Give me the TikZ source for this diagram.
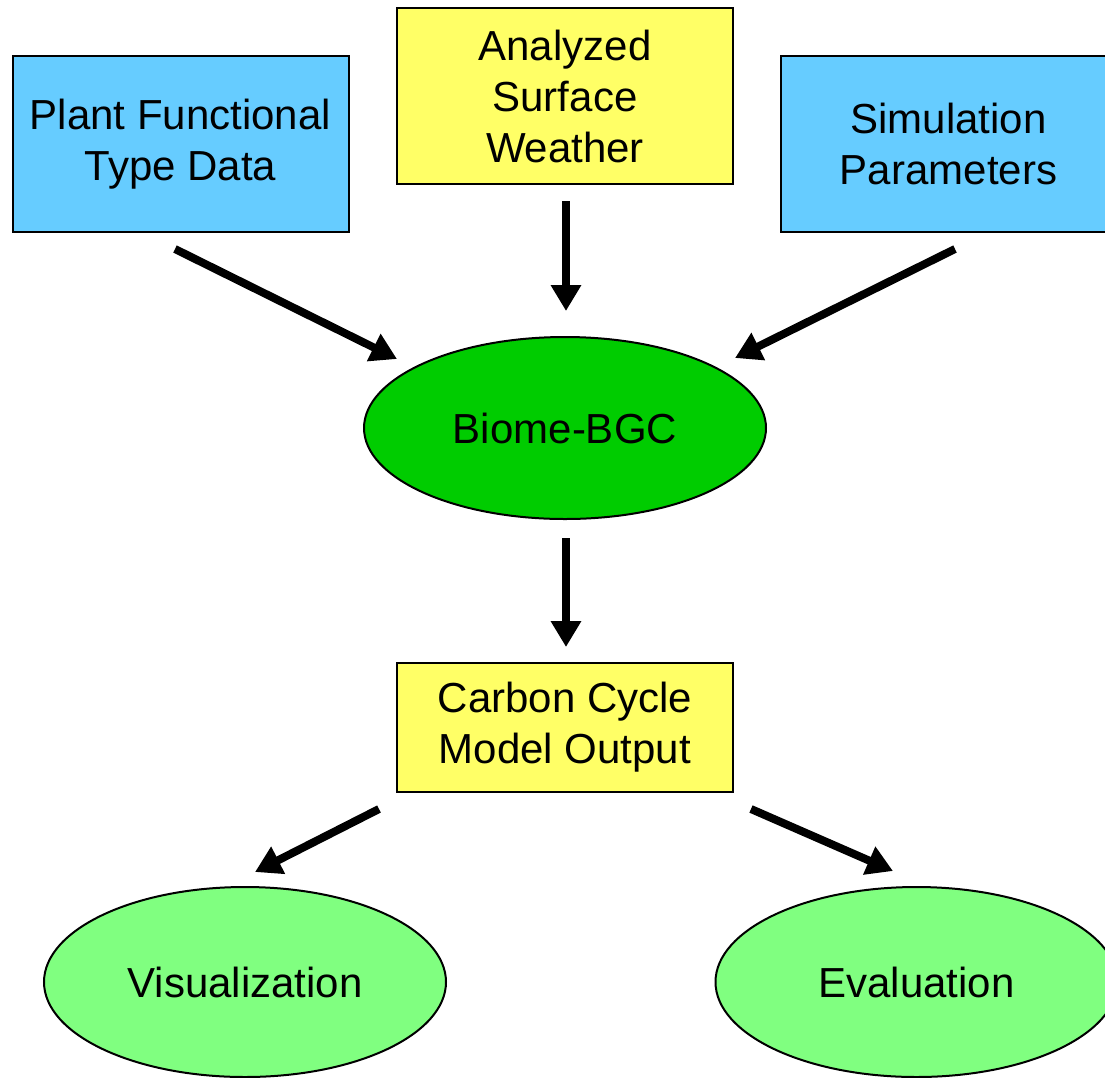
\documentclass[tikz,border=0pt]{standalone}
\usepackage{fontspec}
\setmainfont{Liberation Sans}
\usepackage{tikz}
\usetikzlibrary{positioning,shapes,arrows.meta}

\definecolor{skyblue}{RGB}{102,204,255}
\definecolor{paleyellow}{RGB}{255,255,102}
\definecolor{modelgreen}{RGB}{0,204,0}
\definecolor{lightgreen}{RGB}{128,255,128}

\begin{document}
\begin{tikzpicture}[x=0.5pt, y=-0.5pt,
  mybox/.style = {draw=black, line width=1pt, inner sep=0pt, align=center,
                  minimum width=168pt, font=\fontsize{21}{25.5}\selectfont},
  myoval/.style = {ellipse, draw=black, line width=1pt, inner sep=0pt,
                   minimum width=201pt, font=\fontsize{21}{25.5}\selectfont},
  myarrow/.style = {line width=4pt, -{Triangle[length=13pt,width=14.5pt]}}]
\useasboundingbox (0,0) rectangle (1105,1078);
% inputs
\node[mybox, fill=skyblue, minimum height=88pt] (plant) at (180.5,144) {Plant Functional\\Type Data};
\node[mybox, fill=paleyellow, minimum height=88pt] (weather) at (565,96) {Analyzed\\Surface\\Weather};
\node[mybox, fill=skyblue, minimum height=88pt] (params) at (948.5,144) {Simulation\\Parameters};
% model
\node[myoval, fill=modelgreen, minimum height=91pt] (biome) at (565,428) {Biome-BGC};
\node[mybox, fill=paleyellow, minimum height=64.5pt] (output) at (565,727.5) {Carbon Cycle\\Model Output};
% uses
\node[myoval, fill=lightgreen, minimum height=95pt] (vis) at (245,982) {Visualization};
\node[myoval, fill=lightgreen, minimum height=95pt] (eval) at (916.5,982) {Evaluation};
% arrows
\draw[myarrow] ([shift={(-5.5,16)}]plant.south) -- ([shift={(-168,-69)}]biome.center);
\draw[myarrow] ([shift={(1,16)}]weather.south) -- ([shift={(1,-25)}]biome.north);
\draw[myarrow] ([shift={(6.5,16)}]params.south) -- ([shift={(170,-70)}]biome.center);
\draw[myarrow] ([shift={(1,18)}]biome.south) -- ([shift={(1,-15)}]output.north);
\draw[myarrow] ([shift={(-17,16)}]output.south west) -- ([shift={(10,-14)}]vis.north);
\draw[myarrow] ([shift={(17,16)}]output.south east) -- ([shift={(-23.5,-15)}]eval.north);
\end{tikzpicture}
\end{document}
